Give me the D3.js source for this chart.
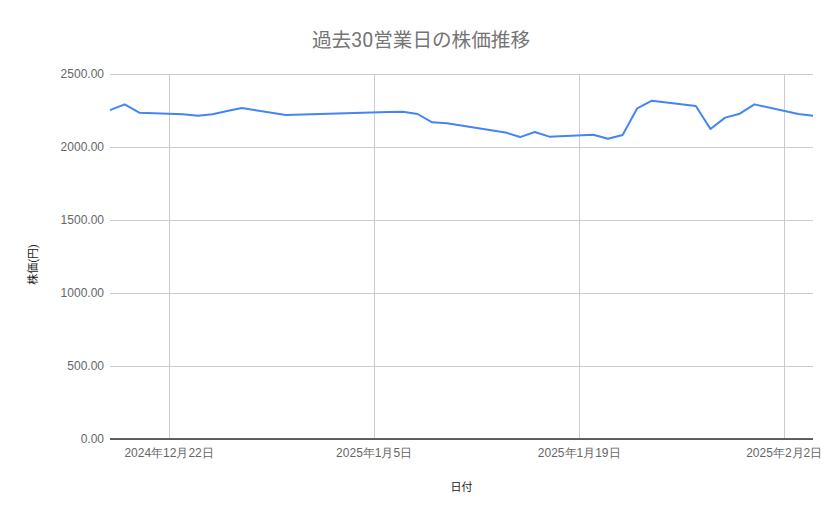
<!DOCTYPE html>
<html>
<head>
<meta charset="utf-8">
<script src="https://cdn.jsdelivr.net/npm/d3@7"></script>
<style>
  html, body { margin: 0; padding: 0; background: #fff; }
  svg { display: block; font-family: Roboto, "Noto Sans CJK JP", sans-serif; }
  .grid line { stroke: #cccccc; stroke-width: 1; shape-rendering: crispEdges; }
  .grid path { display: none; }
  .tick-label { fill: #666; font-size: 12px; }
</style>
</head>
<body>
<div id="chart"></div>
<script>
// 過去30営業日の終値（目視で読み取り）
const DATES = [
  "2024-12-18", "2024-12-19", "2024-12-20", "2024-12-23", "2024-12-24",
  "2024-12-25", "2024-12-26", "2024-12-27", "2024-12-30", "2025-01-06",
  "2025-01-07", "2025-01-08", "2025-01-09", "2025-01-10", "2025-01-14",
  "2025-01-15", "2025-01-16", "2025-01-17", "2025-01-20", "2025-01-21",
  "2025-01-22", "2025-01-23", "2025-01-24", "2025-01-27", "2025-01-28",
  "2025-01-29", "2025-01-30", "2025-01-31", "2025-02-03", "2025-02-04"
];
const PRICES = [
  2253, 2292, 2235, 2224, 2214,
  2224, 2247, 2267, 2219, 2240,
  2242, 2226, 2169, 2162, 2100,
  2068, 2103, 2071, 2084, 2057,
  2082, 2265, 2317, 2281, 2123,
  2201, 2228, 2292, 2226, 2214
];
const X_TICKS = ["2024-12-22", "2025-01-05", "2025-01-19", "2025-02-02"];
const Y_TICKS = [0, 500, 1000, 1500, 2000, 2500];

const W = 839, H = 519;
const margin = { top: 74, right: 26, bottom: 80, left: 110 };
const innerW = W - margin.left - margin.right;
const innerH = H - margin.top - margin.bottom;

const parse = d3.timeParse("%Y-%m-%d");
const data = DATES.map((d, i) => ({ date: parse(d), value: PRICES[i] }));

const svg = d3.select("#chart").append("svg")
  .attr("width", W).attr("height", H);

const g = svg.append("g")
  .attr("transform", `translate(${margin.left},${margin.top})`);

const x = d3.scaleTime()
  .domain([data[0].date, data[data.length - 1].date])
  .range([0, innerW]);

const y = d3.scaleLinear()
  .domain([0, 2500])
  .range([innerH, 0]);

// 横グリッド
g.append("g").attr("class", "grid")
  .call(d3.axisLeft(y).tickValues(Y_TICKS).tickSize(-innerW).tickFormat(""));

// 縦グリッド
g.append("g").attr("class", "grid")
  .attr("transform", `translate(0,${innerH})`)
  .call(d3.axisBottom(x).tickValues(X_TICKS.map(parse)).tickSize(-innerH).tickFormat(""));

// 0 の基線
g.append("line")
  .attr("x1", 0).attr("x2", innerW)
  .attr("y1", y(0)).attr("y2", y(0))
  .attr("stroke", "#333").attr("stroke-width", 1.5);

// Y目盛ラベル
const yAxis = g.append("g")
  .call(d3.axisLeft(y).tickValues(Y_TICKS).tickSize(0).tickPadding(6).tickFormat(d3.format(".2f")));
yAxis.select(".domain").remove();
yAxis.selectAll("text").attr("class", "tick-label").attr("fill", null).style("font-size", "12px");

// X目盛ラベル
const fmtJP = d3.timeFormat("%Y年%-m月%-d日");
const xAxis = g.append("g")
  .attr("transform", `translate(0,${innerH})`)
  .call(d3.axisBottom(x).tickValues(X_TICKS.map(parse)).tickSize(0).tickPadding(9).tickFormat(fmtJP));
xAxis.select(".domain").remove();
xAxis.selectAll("text").attr("class", "tick-label").attr("fill", null).style("font-size", "12px");

// 折れ線
const line = d3.line()
  .x(d => x(d.date))
  .y(d => y(d.value));

g.append("path")
  .datum(data)
  .attr("fill", "none")
  .attr("stroke", "#4285f4")
  .attr("stroke-width", 2)
  .attr("stroke-linejoin", "round")
  .attr("d", line);

// タイトル
svg.append("text")
  .attr("x", 421).attr("y", 47)
  .attr("text-anchor", "middle")
  .attr("fill", "#757575")
  .style("font-size", "19.6px")
  .text("過去30営業日の株価推移");

// 軸タイトル
svg.append("text")
  .attr("x", margin.left + innerW / 2).attr("y", 491)
  .attr("text-anchor", "middle")
  .attr("fill", "#222")
  .style("font-size", "11px")
  .text("日付");

svg.append("text")
  .attr("transform", `translate(37,${margin.top + innerH / 2 + 8}) rotate(-90)`)
  .attr("text-anchor", "middle")
  .attr("fill", "#222")
  .style("font-size", "11px")
  .text("株価(円)");
</script>
</body>
</html>
